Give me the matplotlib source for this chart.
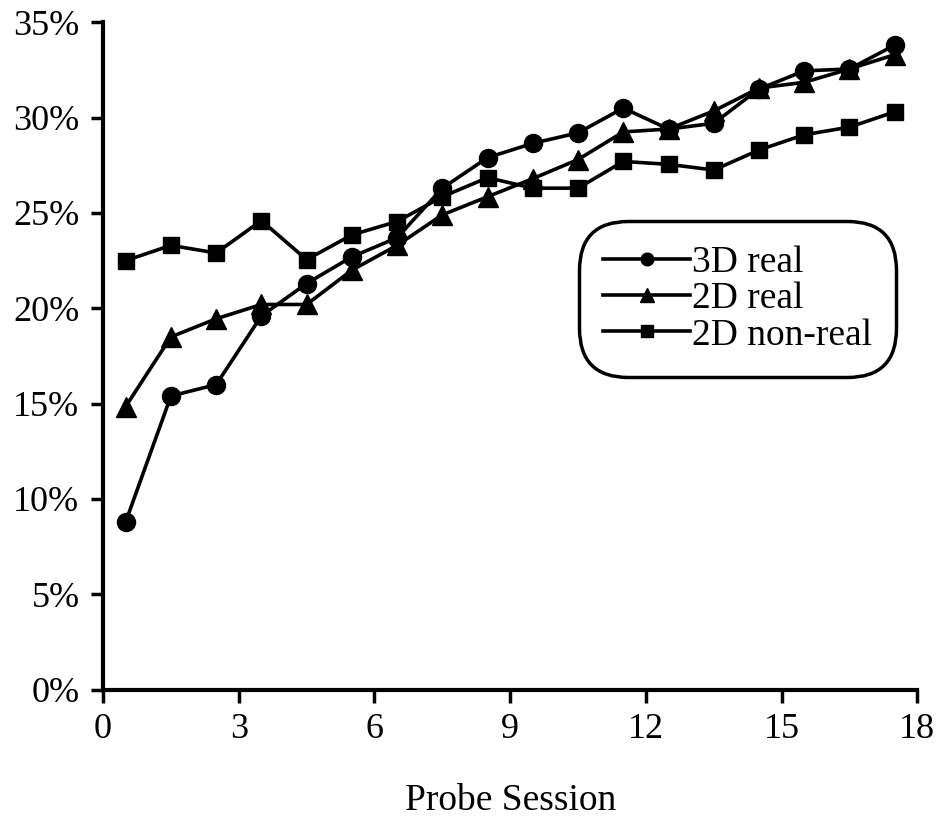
import matplotlib
matplotlib.use("Agg")
import matplotlib.pyplot as plt

plt.rcParams['font.family'] = ['Liberation Serif', 'DejaVu Serif']

sessions = [0.5, 1.5, 2.5, 3.5, 4.5, 5.5, 6.5, 7.5, 8.5,
            9.5, 10.5, 11.5, 12.5, 13.5, 14.5, 15.5, 16.5, 17.5]

real_3d = [8.8, 15.4, 16.0, 19.6, 21.3, 22.7, 23.7, 26.3, 27.9,
           28.65, 29.2, 30.5, 29.4, 29.7, 31.5, 32.45, 32.55, 33.8]
real_2d = [14.85, 18.5, 19.45, 20.2, 20.2, 22.0, 23.3, 24.9, 25.85,
           26.8, 27.8, 29.25, 29.4, 30.35, 31.55, 31.85, 32.55, 33.3]
nonreal_2d = [22.5, 23.3, 22.9, 24.6, 22.55, 23.85, 24.55, 25.85, 26.85,
              26.3, 26.3, 27.7, 27.55, 27.25, 28.3, 29.1, 29.5, 30.3]

xticks = [0, 3, 6, 9, 12, 15, 18]
yticks = [0, 5, 10, 15, 20, 25, 30, 35]

fig = plt.figure(figsize=(9.37, 8.24), dpi=100)
ax = fig.add_axes([0.11, 0.163, 0.869, 0.81])

ax.plot(sessions, real_3d, '-o', color='black', lw=2.6, ms=13, label='3D real')
ax.plot(sessions, real_2d, '-^', color='black', lw=2.6, ms=15, label='2D real')
ax.plot(sessions, nonreal_2d, '-s', color='black', lw=2.6, ms=12, label='2D non-real')

ax.set_xlim(0, 18)
ax.set_ylim(0, 35)
ax.set_xticks(xticks)
ax.set_yticks(yticks)
ax.set_yticklabels([f'{v}%' for v in yticks])
ax.tick_params(labelsize=26, width=2.5, length=9, direction='out', pad=8)

for s in ['top', 'right']:
    ax.spines[s].set_visible(False)
for s in ['left', 'bottom']:
    ax.spines[s].set_linewidth(3)

ax.set_xlabel('Probe Session', fontsize=27, labelpad=27)

leg = ax.legend(loc='upper left', bbox_to_anchor=(0.632, 0.716), bbox_transform=fig.transFigure,
                fontsize=27, fancybox=True, framealpha=1, edgecolor='black',
                handlelength=2.3, handletextpad=0.05, borderpad=0.3, labelspacing=0.05,
                borderaxespad=0, markerscale=0.7)
leg.get_frame().set_linewidth(2.5)
leg.get_frame().set_boxstyle('round', pad=0.35, rounding_size=1.3)

fig.savefig('out.png', dpi=100)
